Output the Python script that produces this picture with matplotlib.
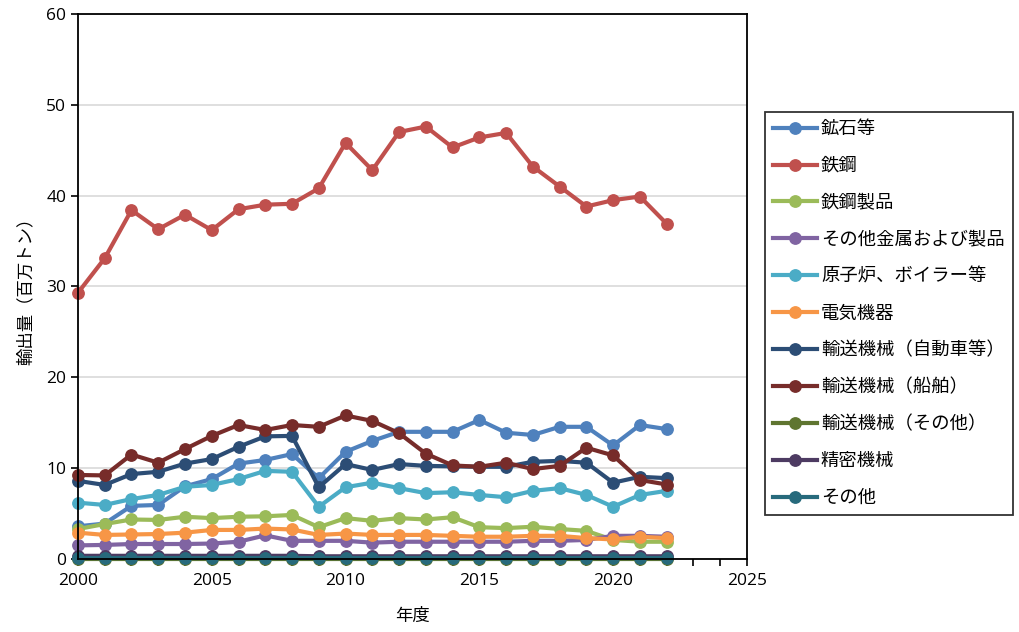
import matplotlib
matplotlib.use("Agg")
import matplotlib.pyplot as plt
from matplotlib.ticker import MultipleLocator

plt.rcParams['font.family'] = ['Noto Sans CJK JP', 'DejaVu Sans']

years = list(range(2000, 2023))

ore = [3.6, 3.9, 5.85, 5.95, 8.0, 8.8, 10.5, 10.9, 11.55, 8.9, 11.8, 13.0, 14.0, 14.0, 14.0,
       15.3, 13.9, 13.65, 14.55, 14.55, 12.5, 14.75, 14.3]
steel = [29.3, 33.1, 38.4, 36.3, 37.9, 36.2, 38.5, 39.0, 39.1, 40.8, 45.8, 42.8, 47.0, 47.6, 45.3,
         46.4, 46.9, 43.2, 41.0, 38.8, 39.5, 39.9, 36.9]
steel_products = [3.3, 3.85, 4.35, 4.3, 4.65, 4.5, 4.65, 4.7, 4.85, 3.5, 4.5, 4.2, 4.5, 4.35, 4.6,
                  3.5, 3.4, 3.55, 3.3, 3.1, 2.1, 1.9, 1.9]
other_metal = [1.5, 1.55, 1.65, 1.65, 1.65, 1.7, 1.9, 2.6, 2.0, 2.0, 2.0, 1.8, 1.9, 1.9, 1.9,
               1.9, 1.9, 2.0, 2.0, 2.1, 2.55, 2.55, 2.45]
nuclear = [6.2, 5.95, 6.6, 7.05, 7.95, 8.15, 8.8, 9.7, 9.6, 5.75, 7.9, 8.4, 7.8, 7.25, 7.35,
           7.05, 6.8, 7.5, 7.8, 7.05, 5.75, 7.05, 7.5]
electric = [2.9, 2.65, 2.7, 2.75, 2.9, 3.2, 3.2, 3.35, 3.25, 2.65, 2.8, 2.65, 2.65, 2.65, 2.55,
            2.45, 2.45, 2.55, 2.55, 2.3, 2.15, 2.45, 2.3]
auto = [8.6, 8.15, 9.35, 9.6, 10.5, 11.0, 12.35, 13.5, 13.55, 7.9, 10.45, 9.8, 10.45, 10.25, 10.2,
        10.15, 10.15, 10.7, 10.8, 10.6, 8.4, 9.05, 8.9]
ship = [9.25, 9.2, 11.5, 10.6, 12.1, 13.55, 14.75, 14.2, 14.75, 14.55, 15.8, 15.2, 13.85, 11.6, 10.3,
        10.15, 10.6, 9.9, 10.25, 12.25, 11.4, 8.7, 8.2]
transport_other = [0.05] * 23
precision = [0.35, 0.35, 0.35, 0.35, 0.35, 0.35, 0.35, 0.35, 0.35, 0.3, 0.3, 0.3, 0.3, 0.3, 0.3,
             0.3, 0.3, 0.3, 0.3, 0.3, 0.3, 0.3, 0.3]
others = [0.1] * 23

labels = ['鉱石等', '鉄鋼', '鉄鋼製品', 'その他金属および製品', '原子炉、ボイラー等', '電気機器',
          '輸送機械（自動車等）', '輸送機械（船舶）', '輸送機械（その他）', '精密機械', 'その他']
series = [ore, steel, steel_products, other_metal, nuclear, electric, auto, ship,
          transport_other, precision, others]
colors = ['#4F81BD', '#C0504D', '#9BBB59', '#8064A2', '#4BACC6', '#F79646',
          '#2C4D75', '#772C2A', '#5F7530', '#4D3B62', '#276A7C']

fig = plt.figure(figsize=(10.19, 6.32), dpi=100)
ax = fig.add_axes([0.0765, 0.1155, 0.6565, 0.8625])

handles = []
for vals, lab, col in zip(series, labels, colors):
    h, = ax.plot(years, vals, color=col, lw=3.0, marker='o', markersize=8.2,
                 label=lab, solid_joinstyle='round', clip_on=False)
    handles.append(h)

ax.set_xlim(2000, 2025)
ax.set_ylim(0, 60)
ax.xaxis.set_major_locator(MultipleLocator(5))
ax.xaxis.set_minor_locator(MultipleLocator(1))
ax.yaxis.set_major_locator(MultipleLocator(10))
ax.grid(axis='y', color='#D9D9D9', lw=1.2)
ax.set_axisbelow(True)
for s in ax.spines.values():
    s.set_color('black')
    s.set_linewidth(1.3)
ax.tick_params(axis='both', which='both', direction='out', length=5, width=1.2,
               labelsize=12.5, colors='black')
ax.tick_params(axis='x', pad=5)
for lbl in ax.get_xticklabels() + ax.get_yticklabels():
    lbl.set_family(['Open Sans', 'DejaVu Sans'])

ax.set_xlabel('年度', fontsize=12.5, labelpad=13)
ax.set_ylabel('輸出量（百万トン）', fontsize=12.5, labelpad=8)

leg = fig.legend(handles=handles, labels=labels, loc='upper left',
                 bbox_to_anchor=(0.7507, 0.823), fontsize=13.2, frameon=True,
                 fancybox=False, edgecolor='black', labelspacing=1.03,
                 handlelength=2.4, handletextpad=0.2, borderpad=0.45,
                 borderaxespad=0)
leg.get_frame().set_linewidth(1.3)

fig.savefig('out.png', dpi=100)
